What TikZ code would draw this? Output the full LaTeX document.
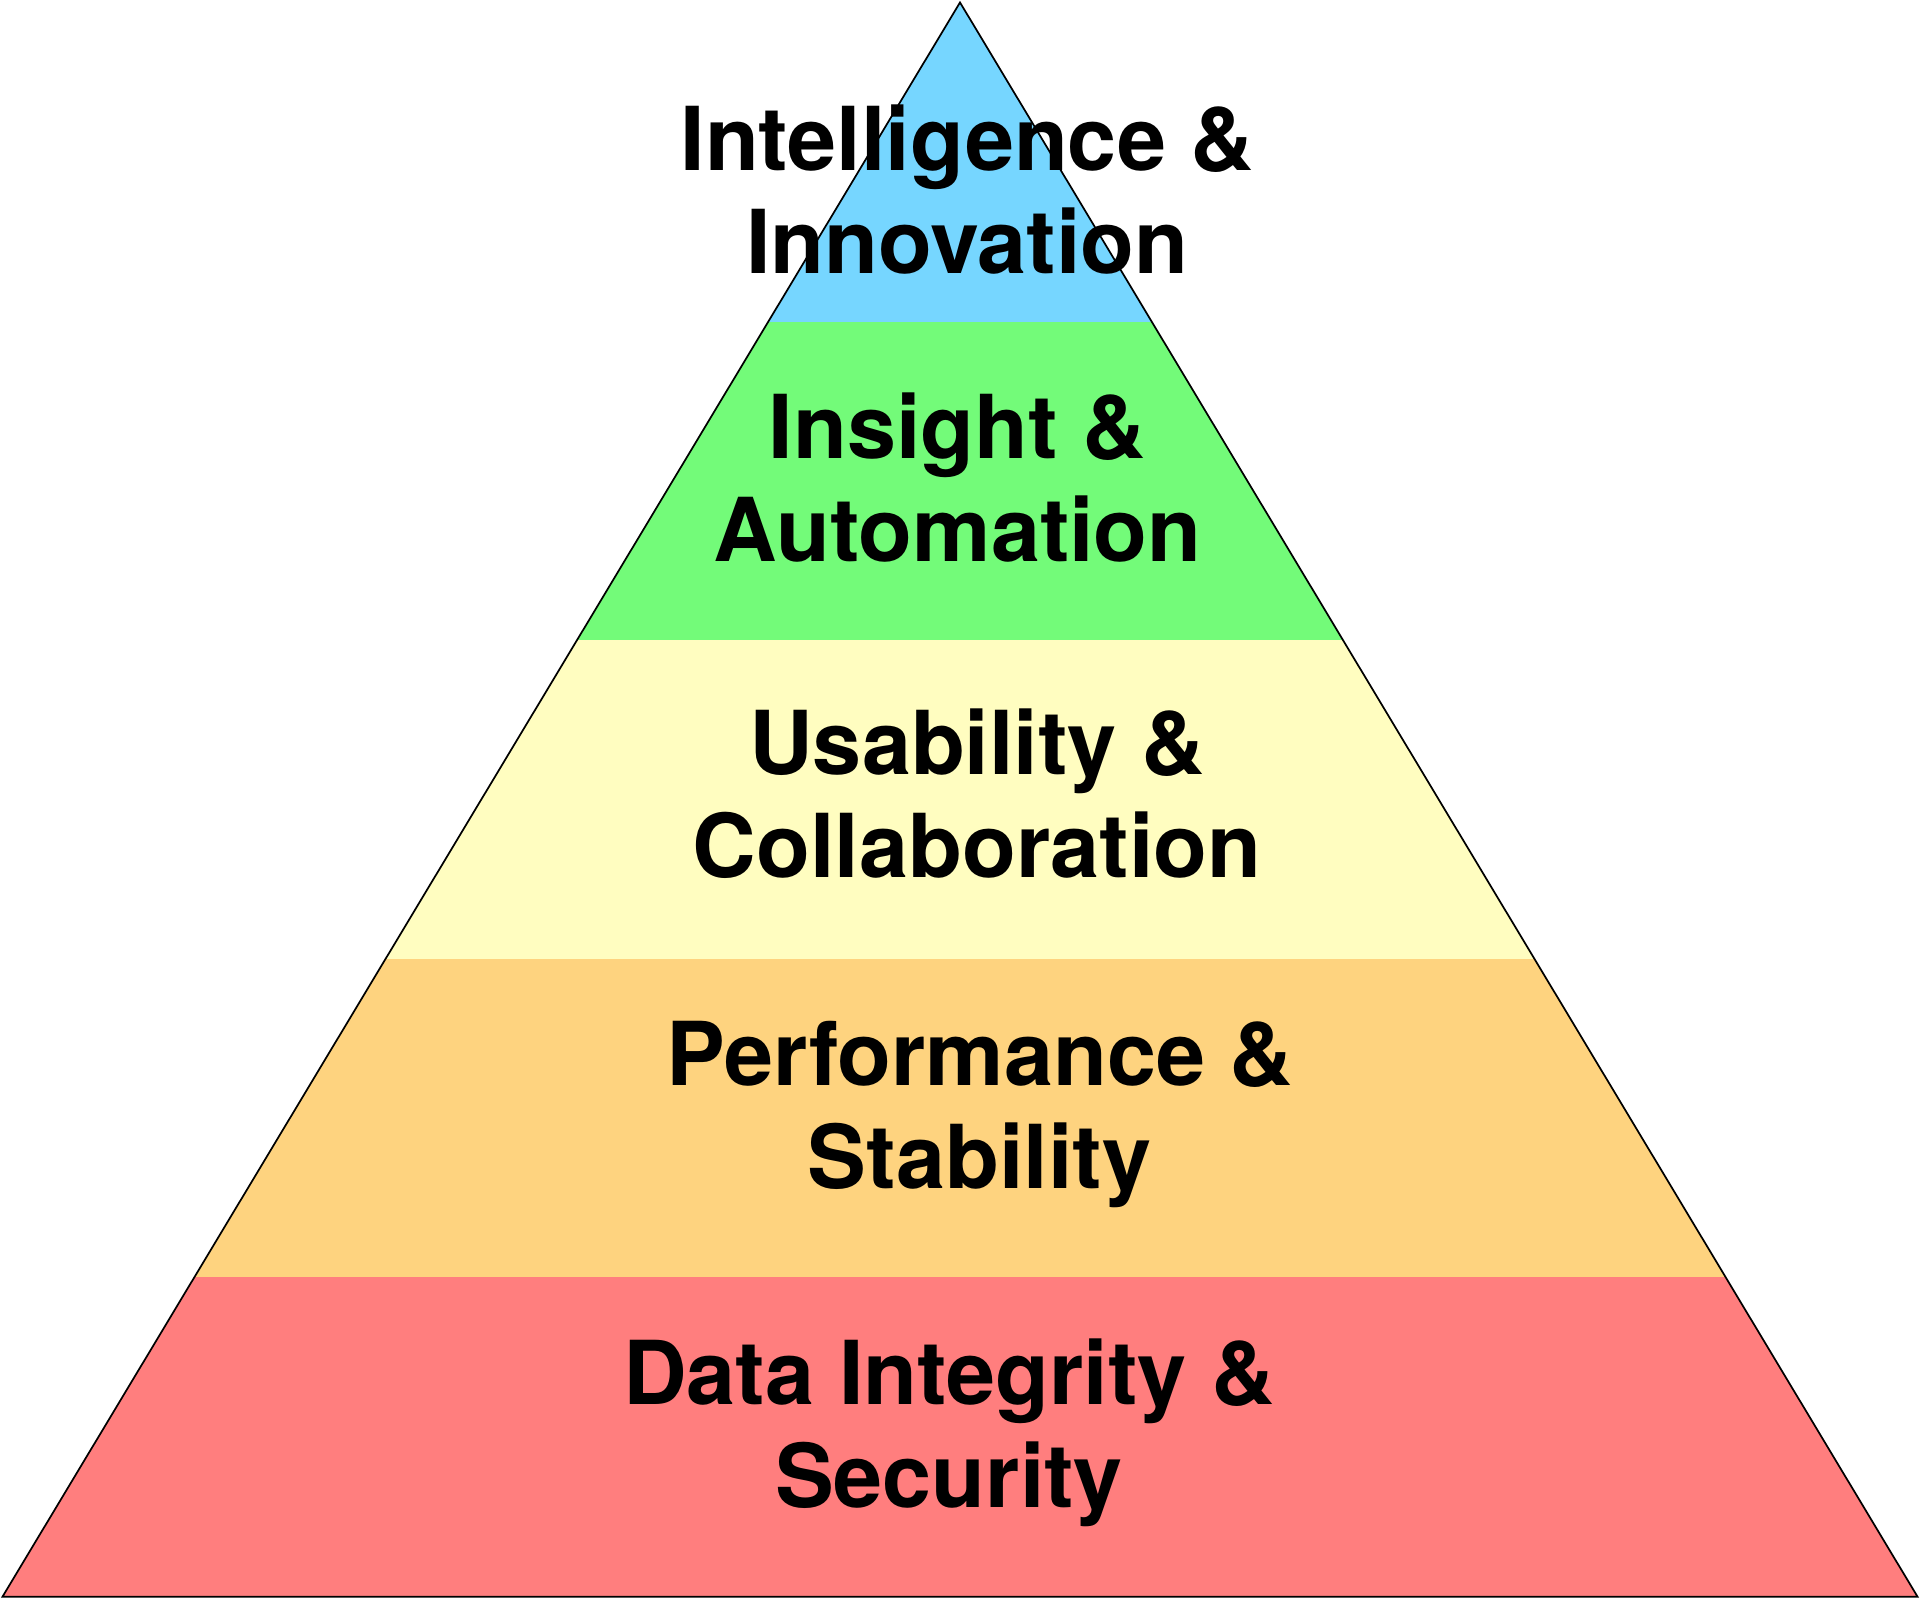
\documentclass[tikz,border=0pt]{standalone}
\usepackage{fontspec}
\setmainfont{TeX Gyre Heros}
\begin{document}
\begin{tikzpicture}[x=0.5pt,y=-0.5pt,
  lbl/.style={font=\bfseries\fontsize{36}{42}\selectfont,align=center}]
\useasboundingbox (0,0) rectangle (1568,1307.4);
\begin{scope}
\clip (784,2) -- (2,1304) -- (1566,1304) -- cycle;
\fill[fill={rgb,255:red,118;green,214;blue,255}] (0,0) rectangle (1568,263);
\fill[fill={rgb,255:red,115;green,251;blue,121}] (0,263) rectangle (1568,523);
\fill[fill={rgb,255:red,255;green,253;blue,192}] (0,523) rectangle (1568,783);
\fill[fill={rgb,255:red,254;green,211;blue,127}] (0,783) rectangle (1568,1043);
\fill[fill={rgb,255:red,255;green,126;blue,126}] (0,1043) rectangle (1568,1306);
\end{scope}
\coordinate (apex) at (784,2);
\coordinate (bl) at (2,1304);
\coordinate (br) at (1566,1304);
\draw[line width=0.7pt] (apex) -- (bl) -- (br) -- cycle;
\node[lbl] (t1) at (790,155) {Intelligence \&\\Innovation};
\node[lbl] (t2) at (782,390) {Insight \&\\Automation};
\node[lbl] (t3) at (798,648) {Usability \&\\Collaboration};
\node[lbl] (t4) at (800,910) {Performance \&\\Stability};
\node[lbl] (t5) at (775,1170) {Data Integrity \&\\Security};
\end{tikzpicture}
\end{document}
